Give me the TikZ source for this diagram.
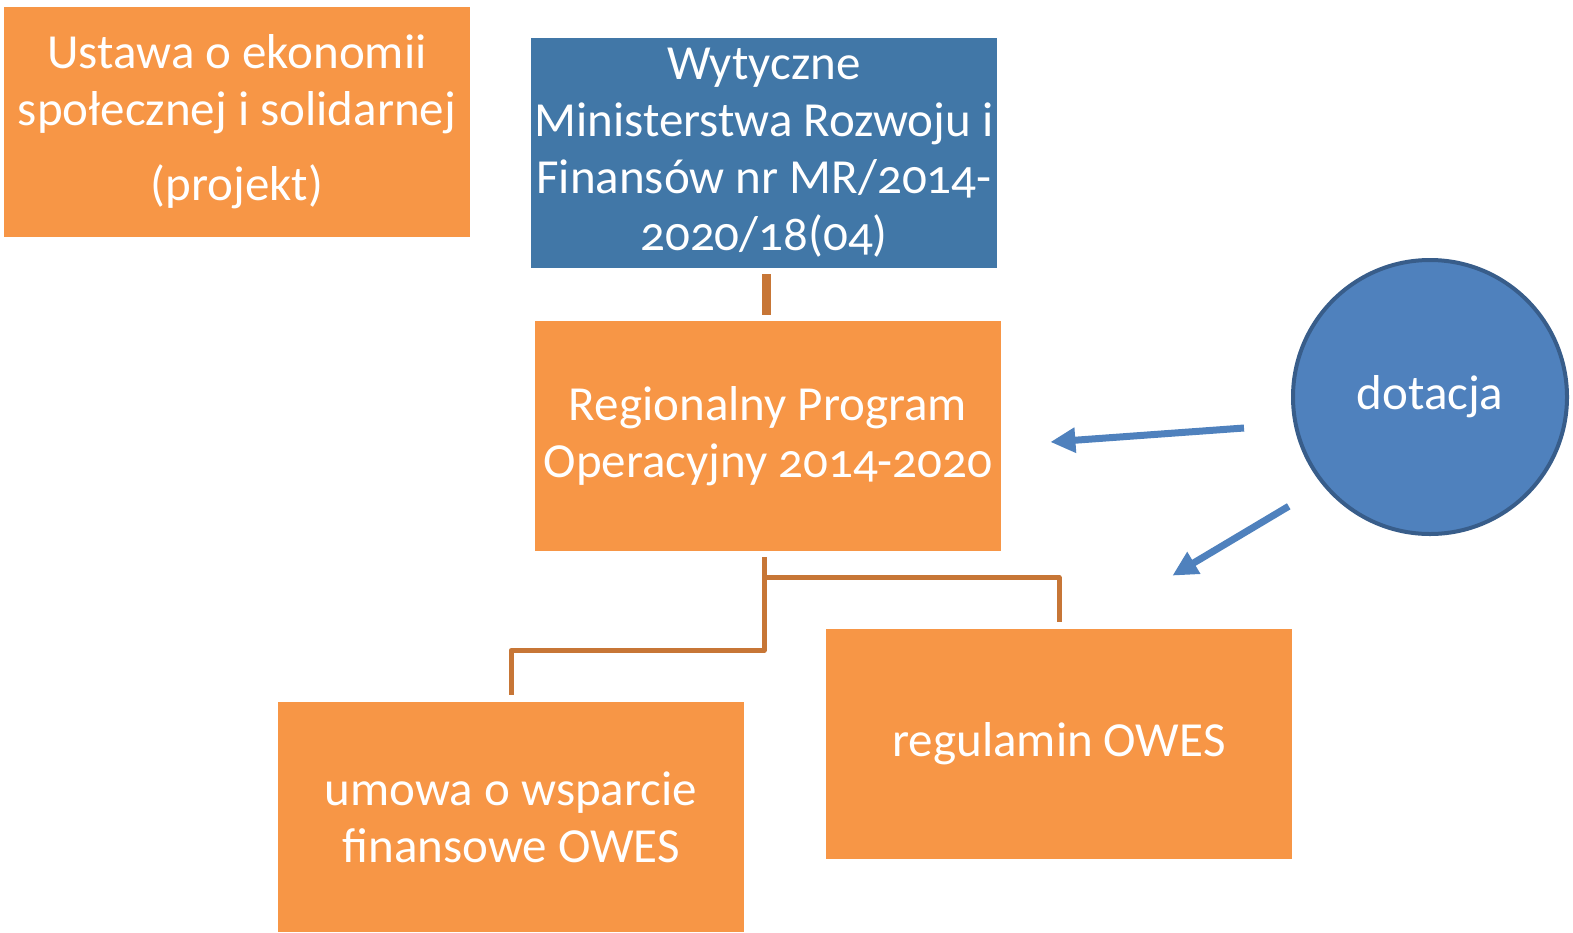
\documentclass[tikz,border=0pt]{standalone}
\usepackage{fontspec}
\setmainfont{Carlito}[Numbers=OldStyle]
\usetikzlibrary{arrows.meta}
\definecolor{boxorange}{HTML}{F79646}
\definecolor{boxblue}{HTML}{4177A7}
\definecolor{dotblue}{HTML}{4F81BD}
\definecolor{dotrim}{HTML}{385D8A}
\definecolor{treebrown}{HTML}{C77636}

\begin{document}
\begin{tikzpicture}[x=0.5pt,y=-0.5pt,
    box/.style={fill=#1, text=white, minimum width=233pt, minimum height=115pt,
      align=center, inner sep=0pt, font=\fontsize{24.5}{28.5}\selectfont},
    box/.default=boxorange,
    tree/.style={treebrown, line width=2.5pt, line join=round},
    flow/.style={dotblue, line width=3.5pt, -{Triangle[length=12.5pt,width=12pt]}}]
  \useasboundingbox (0,0) rectangle (1573,932);
  \node[box] (ustawa) at (237,122) {Ustawa o ekonomii\\ społecznej i solidarnej\\[9pt] (projekt)};
  \node[box=boxblue] (wytyczne) at (764,153) {Wytyczne\\ Ministerstwa Rozwoju i\\ Finansów nr MR/2014-\\ 2020/18(04)};
  \node[box] (rpo) at (768,436) {Regionalny Program\\ Operacyjny 2014-2020};
  \node[box] (umowa) at (511,817) {umowa o wsparcie\\ finansowe OWES};
  \node[box] (regul) at (1059,744) {regulamin OWES};
  \node[circle, fill=dotblue, draw=dotrim, line width=2pt, minimum size=137pt,
    text=white, font=\fontsize{24.5}{28.5}\selectfont] (dot) at (1430,397) {dotacja};

  \draw[treebrown, line width=4.5pt] ([shift={(2,6)}]wytyczne.south) -- ([shift={(2,-6)}]wytyczne.south |- rpo.north);
  \draw[tree] ([shift={(-4,6)}]rpo.south) -- ++(0,93) -| ([yshift=3.5pt]umowa.north);
  \draw[tree] ([shift={(-4,6)}]rpo.south) ++(0,20) -| ([yshift=3.5pt]regul.north);

  \draw[flow] ([shift={(-47,31)}]dot.west) -- ([shift={(49,6)}]rpo.east);
  \draw[flow] ([shift={(-43,11)}]dot.south west) -- ([shift={(-120,-53)}]regul.north east);
\end{tikzpicture}
\end{document}
